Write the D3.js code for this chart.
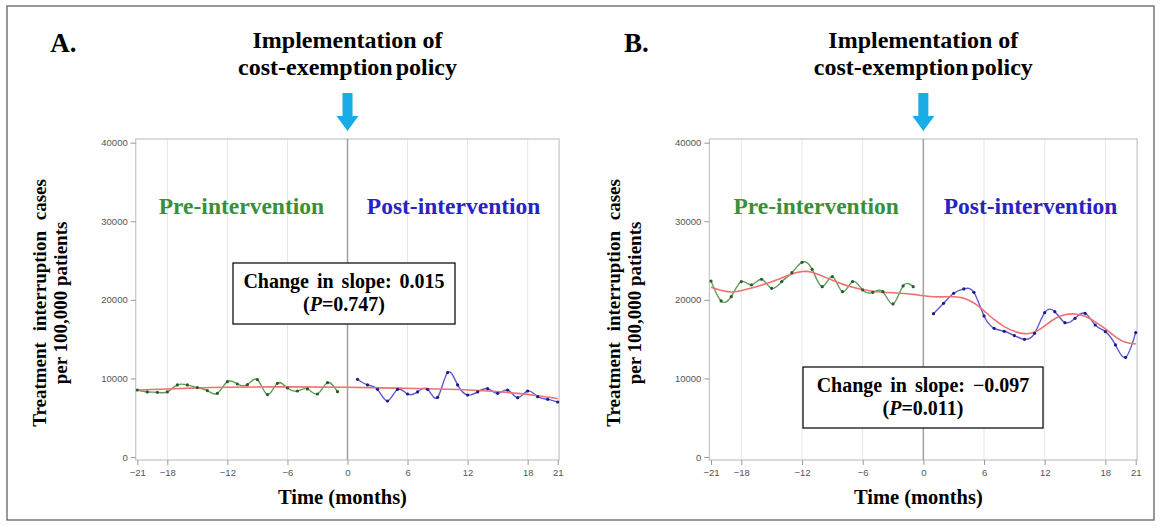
<!DOCTYPE html>
<html>
<head>
<meta charset="utf-8">
<script src="https://cdn.jsdelivr.net/npm/d3@7"></script>
<style>
  body { margin: 0; background: #fff; }
  svg { display: block; }
  .serif { font-family: "Liberation Serif", "Times New Roman", serif; font-weight: bold; }
  .tick text { font-family: "Liberation Sans", Arial, sans-serif; font-size: 9.5px; fill: #555; }
  .tick line { stroke: #999; }
</style>
</head>
<body>
<div id="chart"></div>
<script>
// months on the x axis (month 0 = policy start, no observation)
const monthsPre  = [-21,-20,-19,-18,-17,-16,-15,-14,-13,-12,-11,-10,-9,-8,-7,-6,-5,-4,-3,-2,-1];
const monthsPost = [1,2,3,4,5,6,7,8,9,10,11,12,13,14,15,16,17,18,19,20,21];
const xTicks = [-21,-18,-12,-6,0,6,12,18,21];
const yTicks = [0,10000,20000,30000,40000];

// panel A
const aPre  = [8530,8280,8230,8280,9170,9170,8830,8450,8100,9590,9290,9210,9850,7940,9380,8780,8400,8660,8020,9460,8320];
const aPost = [9890,9170,8610,7130,8610,8020,8280,8610,7600,10740,9170,7890,8280,8700,8100,8530,7550,8400,7680,7340,7000];
const aTrendMonths = [-21,-18,-15,-12,-6,0,5,10,14,17,19,21];
const aTrend       = [8530,8650,8800,8880,8920,8870,8760,8620,8400,8100,7800,7450];

// panel B
const bPre  = [22400,19860,20410,22320,21900,22620,21470,22320,23460,24780,23890,21680,22950,21040,22320,21260,20960,21040,19480,21770,21680];
const bPost = [18240,19560,20840,21390,20960,17950,16380,16000,15450,14980,15740,18370,18500,17100,17650,18290,16800,15960,14260,12690,15830];
const bTrendMonths = [-21,-19,-17,-15,-13,-12,-11,-9,-7,-5,-3,-1,1,3,4,5,6,7,8,9,10,11,12,13,14,15,16,17,18,19,20,21];
const bTrend       = [21600,21000,21500,22300,23300,23600,23500,22500,21600,21100,20900,20700,20400,20400,20200,19600,18600,17500,16600,16000,15700,15900,16700,17600,18100,18200,17900,17200,16300,15300,14600,14400];

const W = 1161, H = 526;

const svg = d3.select("#chart")
    .append("svg")
    .attr("width", W)
    .attr("height", H);

svg.append("rect").attr("width", W).attr("height", H).attr("fill", "#fff");
// outer figure border
svg.append("rect")
    .attr("x", 7).attr("y", 6)
    .attr("width", 1147).attr("height", 514)
    .attr("fill", "none").attr("stroke", "#555").attr("stroke-width", 1.2);

const fmtTick = d => d < 0 ? "\u2212" + Math.abs(d) : String(d);

function drawPanel(p) {
    const x = d3.scaleLinear().domain([-21, 21]).range(p.xRange);
    const y = d3.scaleLinear().domain([0, 40000]).range([457, 142.7]);
    const g = svg.append("g");
    const fl = p.xRange[0] - 1.6, fr = p.xRange[1] + 1.4;

    // vertical grid
    g.selectAll(".grid")
        .data(xTicks.filter(d => d !== 0 && Math.abs(d) !== 21))
        .enter().append("line")
        .attr("x1", d => x(d)).attr("x2", d => x(d))
        .attr("y1", 139).attr("y2", 460)
        .attr("stroke", "#e6e6e6");

    // frame
    g.append("rect")
        .attr("x", fl).attr("y", 139)
        .attr("width", fr - fl).attr("height", 321)
        .attr("fill", "none").attr("stroke", "#c8c8c8").attr("stroke-width", 1.3);

    // intervention line
    g.append("line")
        .attr("x1", x(0)).attr("x2", x(0))
        .attr("y1", 139).attr("y2", 460)
        .attr("stroke", "#a0a0a0").attr("stroke-width", 1.5);

    // axes
    g.append("g")
        .attr("transform", `translate(${fl},0)`)
        .call(d3.axisLeft(y).tickValues(yTicks).tickFormat(d3.format("d")).tickSize(5).tickPadding(3))
        .call(a => a.select(".domain").remove());

    g.append("g")
        .attr("transform", "translate(0,460)")
        .call(d3.axisBottom(x).tickValues(xTicks).tickFormat(fmtTick).tickSize(5).tickPadding(4))
        .call(a => a.select(".domain").remove());

    // series
    const line = d3.line().x(d => x(d[0])).y(d => y(d[1])).curve(d3.curveNatural);
    const pre  = monthsPre.map((m, i) => [m, p.pre[i]]);
    const post = monthsPost.map((m, i) => [m, p.post[i]]);
    const trend = p.trendMonths.map((m, i) => [m, p.trend[i]]);

    g.append("path").datum(pre).attr("d", line)
        .attr("fill", "none").attr("stroke", "#5aa05a").attr("stroke-width", 1.4);
    g.append("path").datum(post).attr("d", line)
        .attr("fill", "none").attr("stroke", "#5a5ad8").attr("stroke-width", 1.4);
    g.append("path").datum(trend).attr("d", line)
        .attr("fill", "none").attr("stroke", "#f07070").attr("stroke-width", 1.6);

    g.selectAll(".dpre").data(pre).enter().append("circle")
        .attr("cx", d => x(d[0])).attr("cy", d => y(d[1])).attr("r", 1.6)
        .attr("fill", "#2d5a2d");
    g.selectAll(".dpost").data(post).enter().append("circle")
        .attr("cx", d => x(d[0])).attr("cy", d => y(d[1])).attr("r", 1.6)
        .attr("fill", "#1c1c80");

    // period labels
    g.append("text").attr("class", "serif")
        .attr("x", x(-10.6)).attr("y", 214)
        .attr("text-anchor", "middle").attr("font-size", 23.5)
        .attr("fill", "#3a8f3a").text("Pre-intervention");
    g.append("text").attr("class", "serif")
        .attr("x", x(10.6)).attr("y", 214)
        .attr("text-anchor", "middle").attr("font-size", 23.5)
        .attr("fill", "#2b22c4").text("Post-intervention");

    // slope box
    const bx = p.box;
    g.append("rect")
        .attr("x", bx[0]).attr("y", bx[1]).attr("width", bx[2]).attr("height", bx[3])
        .attr("fill", "#fff").attr("stroke", "#111").attr("stroke-width", 1.3);
    g.append("text").attr("class", "serif")
        .attr("x", bx[0] + bx[2] / 2).attr("y", bx[1] + 25)
        .attr("text-anchor", "middle").attr("font-size", 20)
        .attr("word-spacing", 3)
        .text(p.slope);
    const t2 = g.append("text").attr("class", "serif")
        .attr("x", bx[0] + bx[2] / 2).attr("y", bx[1] + 48)
        .attr("text-anchor", "middle").attr("font-size", 20);
    t2.append("tspan").text("(");
    t2.append("tspan").attr("font-style", "italic").text("P");
    t2.append("tspan").text(p.pval + ")");

    // axis titles
    g.append("text").attr("class", "serif")
        .attr("x", (p.xRange[0] + p.xRange[1]) / 2 - 5).attr("y", 504)
        .attr("text-anchor", "middle").attr("font-size", 20.5)
        .text("Time (months)");

    const yt = g.append("text").attr("class", "serif")
        .attr("transform", `translate(${p.xRange[0] - 91},303) rotate(-90)`)
        .attr("text-anchor", "middle").attr("font-size", 19);
    yt.append("tspan").attr("x", 0).attr("dy", 0).attr("word-spacing", 6).text("Treatment interruption cases");
    yt.append("tspan").attr("x", 0).attr("dy", 21).text("per 100,000 patients");

    // panel letter and policy title
    g.append("text").attr("class", "serif")
        .attr("x", p.xRange[0] - 87).attr("y", 52)
        .attr("font-size", 27).text(p.letter);

    const cx = x(0);
    g.append("text").attr("class", "serif")
        .attr("x", cx).attr("y", 48)
        .attr("text-anchor", "middle").attr("font-size", 24)
        .text("Implementation of");
    g.append("text").attr("class", "serif")
        .attr("x", cx).attr("y", 75)
        .attr("text-anchor", "middle").attr("font-size", 24)
        .attr("word-spacing", -3)
        .text("cost-exemption policy");

    // arrow
    g.append("path")
        .attr("d", `M${cx - 5},93 H${cx + 5} V116 H${cx + 11} L${cx},131 L${cx - 11},116 H${cx - 5} Z`)
        .attr("fill", "#19ace6");
}

drawPanel({
    letter: "A.", xRange: [137.3, 557.7],
    pre: aPre, post: aPost, trendMonths: aTrendMonths, trend: aTrend,
    box: [233, 263, 222, 61], slope: "Change in slope: 0.015", pval: "=0.747"
});
drawPanel({
    letter: "B.", xRange: [711, 1135.7],
    pre: bPre, post: bPost, trendMonths: bTrendMonths, trend: bTrend,
    box: [803, 367, 240, 61], slope: "Change in slope: \u22120.097", pval: "=0.011"
});
</script>
</body>
</html>
